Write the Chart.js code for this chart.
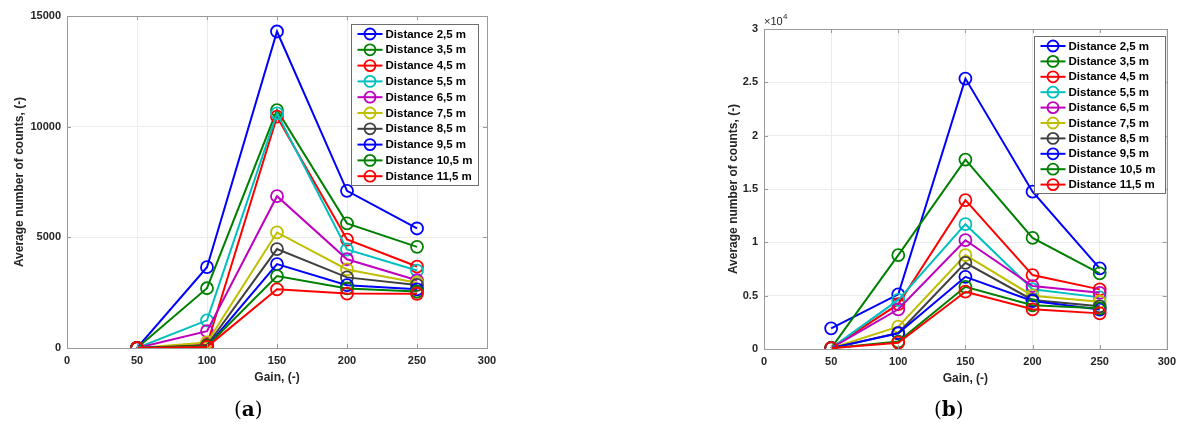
<!DOCTYPE html>
<html>
<head>
<meta charset="utf-8">
<script src="https://cdn.jsdelivr.net/npm/chart.js@4.4.1/dist/chart.umd.min.js"></script>
<style>
  html, body { margin:0; padding:0; background:#fff; }
  body { width:1182px; height:426px; position:relative; overflow:hidden; }
  .wrap { position:absolute; top:0; }
  .cap { position:absolute; top:397px; font-family:"DejaVu Serif","Liberation Serif",serif; font-size:20px; color:#000; }
  .cap b { font-weight:bold; }
</style>
</head>
<body>
<div class="wrap" style="left:0;width:600px;height:426px;"><canvas id="ca"></canvas></div>
<div class="wrap" style="left:700px;width:482px;height:426px;"><canvas id="cb"></canvas></div>
<div class="cap" style="left:234px;">(<b>a</b>)</div>
<div class="cap" style="left:934px;">(<b>b</b>)</div>
<script>
// ---- data ----
const gains = [50, 100, 150, 200, 250];
const seriesNames = ['Distance 2,5 m','Distance 3,5 m','Distance 4,5 m','Distance 5,5 m','Distance 6,5 m','Distance 7,5 m','Distance 8,5 m','Distance 9,5 m','Distance 10,5 m','Distance 11,5 m'];
const seriesColors = ['#0000ff','#008000','#ff0000','#00bfbf','#bf00bf','#bfbf00','#404040','#0000ff','#008000','#ff0000'];
const xTicks = [0, 50, 100, 150, 200, 250, 300];
const yTicksA = [0, 5000, 10000, 15000];
const yTicksB = [0, 5000, 10000, 15000, 20000, 25000, 30000];

// panel (a)
const a_d25  = [0, 3650, 14300, 7100, 5400];
const a_d35  = [0, 2700, 10750, 5630, 4570];
const a_d45  = [0, 150, 10450, 4900, 3680];
const a_d55  = [0, 1250, 10600, 4450, 3500];
const a_d65  = [0, 760, 6860, 4010, 3060];
const a_d75  = [0, 250, 5220, 3550, 2950];
const a_d85  = [0, 120, 4470, 3190, 2850];
const a_d95  = [0, 60, 3790, 2840, 2650];
const a_d105 = [0, 80, 3250, 2690, 2550];
const a_d115 = [0, 50, 2650, 2460, 2450];
// panel (b)
const b_d25  = [1940, 5120, 25350, 14750, 7550];
const b_d35  = [80, 8800, 17760, 10420, 7090];
const b_d45  = [80, 4200, 13950, 6930, 5590];
const b_d55  = [80, 4600, 11700, 5600, 4840];
const b_d65  = [80, 3720, 10200, 5900, 5270];
const b_d75  = [80, 2090, 8800, 5000, 4430];
const b_d85  = [80, 1500, 8080, 4600, 4000];
const b_d95  = [80, 1470, 6770, 4500, 3700];
const b_d105 = [80, 700, 5830, 4100, 3810];
const b_d115 = [80, 590, 5370, 3720, 3340];

const seriesA = [a_d25,a_d35,a_d45,a_d55,a_d65,a_d75,a_d85,a_d95,a_d105,a_d115];
const seriesB = [b_d25,b_d35,b_d45,b_d55,b_d65,b_d75,b_d85,b_d95,b_d105,b_d115];

const FONT = '"Liberation Sans", Arial, sans-serif';
const AXC = '#262626';

function makeDatasets(series) {
  return series.map((vals, i) => ({
    label: seriesNames[i],
    data: gains.map((g, j) => ({x: g, y: vals[j]})),
    borderColor: seriesColors[i],
    backgroundColor: 'rgba(0,0,0,0)',
    borderWidth: 2,
    pointRadius: 6,
    pointBorderWidth: 1.8,
    pointHoverRadius: 6,
    pointBackgroundColor: 'rgba(0,0,0,0)',
    pointBorderColor: seriesColors[i],
    tension: 0,
    order: 20 - i
  }));
}

const boxPlugin = {
  id: 'boxPlugin',
  afterDraw(chart, args, opts) {
    const ctx = chart.ctx, a = chart.chartArea;
    const xs = chart.scales.x, ys = chart.scales.y;
    ctx.save();
    ctx.strokeStyle = '#9a9a9a';
    ctx.lineWidth = 1;
    ctx.beginPath();
    xs.ticks.forEach(t => {
      const px = Math.round(xs.getPixelForValue(t.value)) + 0.5;
      ctx.moveTo(px, a.bottom); ctx.lineTo(px, a.bottom - 4);
      ctx.moveTo(px, a.top); ctx.lineTo(px, a.top + 4);
    });
    ys.ticks.forEach(t => {
      const py = Math.round(ys.getPixelForValue(t.value)) + 0.5;
      ctx.moveTo(a.left, py); ctx.lineTo(a.left + 4, py);
      ctx.moveTo(a.right, py); ctx.lineTo(a.right - 4, py);
    });
    ctx.stroke();
    ctx.strokeRect(Math.round(a.left) + 0.5, Math.round(a.top) + 0.5, Math.round(a.right - a.left), Math.round(a.bottom - a.top));
    const L = opts;
    const bx = Math.round(a.right - L.dx - L.w) + 0.5, by = Math.round(a.top + L.dy) + 0.5;
    ctx.fillStyle = '#fff';
    ctx.fillRect(bx, by, L.w, L.h);
    ctx.strokeStyle = '#6e6e6e';
    ctx.strokeRect(bx, by, L.w, L.h);
    ctx.font = 'bold 11.5px ' + FONT;
    ctx.textBaseline = 'middle';
    chart.data.datasets.forEach((ds, i) => {
      const cy = by + 9.5 + i * L.row;
      ctx.strokeStyle = ds.borderColor;
      ctx.lineWidth = 2;
      ctx.beginPath();
      ctx.moveTo(bx + 6, cy); ctx.lineTo(bx + 31, cy);
      ctx.stroke();
      ctx.lineWidth = 1.8;
      ctx.beginPath();
      ctx.arc(bx + 18.5, cy, 5.5, 0, Math.PI * 2);
      ctx.stroke();
      ctx.fillStyle = '#000';
      ctx.fillText(ds.label, bx + 34, cy + 0.5);
    });
    if (L.exponent) {
      ctx.fillStyle = AXC;
      ctx.font = '11px ' + FONT;
      ctx.textBaseline = 'alphabetic';
      ctx.fillText('\u00d710', a.left, a.top - 4);
      ctx.font = '8px ' + FONT;
      ctx.fillText('4', a.left + 19, a.top - 10);
    }
    ctx.restore();
  }
};

function makeChart(id, series, yTicks, cfg) {
  return new Chart(document.getElementById(id), {
    type: 'line',
    data: { datasets: makeDatasets(series) },
    plugins: [boxPlugin],
    options: {
      responsive: true,
      maintainAspectRatio: false,
      animation: false,
      events: [],
      layout: { padding: cfg.padding },
      plugins: {
        legend: { display: false },
        tooltip: { enabled: false },
        boxPlugin: cfg.legend
      },
      scales: {
        x: {
          type: 'linear', min: 0, max: 300,
          afterBuildTicks: s => { s.ticks = xTicks.map(v => ({value: v})); },
          afterFit: s => { s.height = 37; },
          grid: { color: '#ebebeb', lineWidth: 1, drawTicks: false },
          border: { display: false },
          ticks: { color: AXC, font: { family: FONT, size: 11, weight: 'bold' }, padding: 6, maxRotation: 0 },
          title: { display: true, text: 'Gain, (-)', color: AXC, font: { family: FONT, size: 12, weight: 'bold' }, padding: { top: 2, bottom: 0 } }
        },
        y: {
          type: 'linear', min: yTicks[0], max: yTicks[yTicks.length - 1],
          afterBuildTicks: s => { s.ticks = yTicks.map(v => ({value: v})); },
          afterFit: s => { s.width = cfg.yWidth; },
          grid: { color: '#ebebeb', lineWidth: 1, drawTicks: false },
          border: { display: false },
          ticks: { color: AXC, font: { family: FONT, size: 11, weight: 'bold' }, padding: 6,
                   callback: v => cfg.tickFmt(v) },
          title: { display: true, text: 'Average number of counts, (-)', color: AXC, font: { family: FONT, size: 12, weight: 'bold' }, padding: { top: 4, bottom: 4 } }
        }
      }
    }
  });
}

makeChart('ca', seriesA, yTicksA, {
  padding: { left: 8, right: 113, top: 16, bottom: 41 },
  yWidth: 59,
  tickFmt: v => String(v),
  legend: { dx: 9, dy: 8, w: 127, h: 161, row: 15.8 }
});
makeChart('cb', seriesB, yTicksB, {
  padding: { left: 22, right: 11, top: 29, bottom: 40 },
  yWidth: 42,
  tickFmt: v => String(v / 10000),
  legend: { dx: 1.5, dy: 6.5, w: 131, h: 157, row: 15.4, exponent: true }
});
</script>
</body>
</html>
